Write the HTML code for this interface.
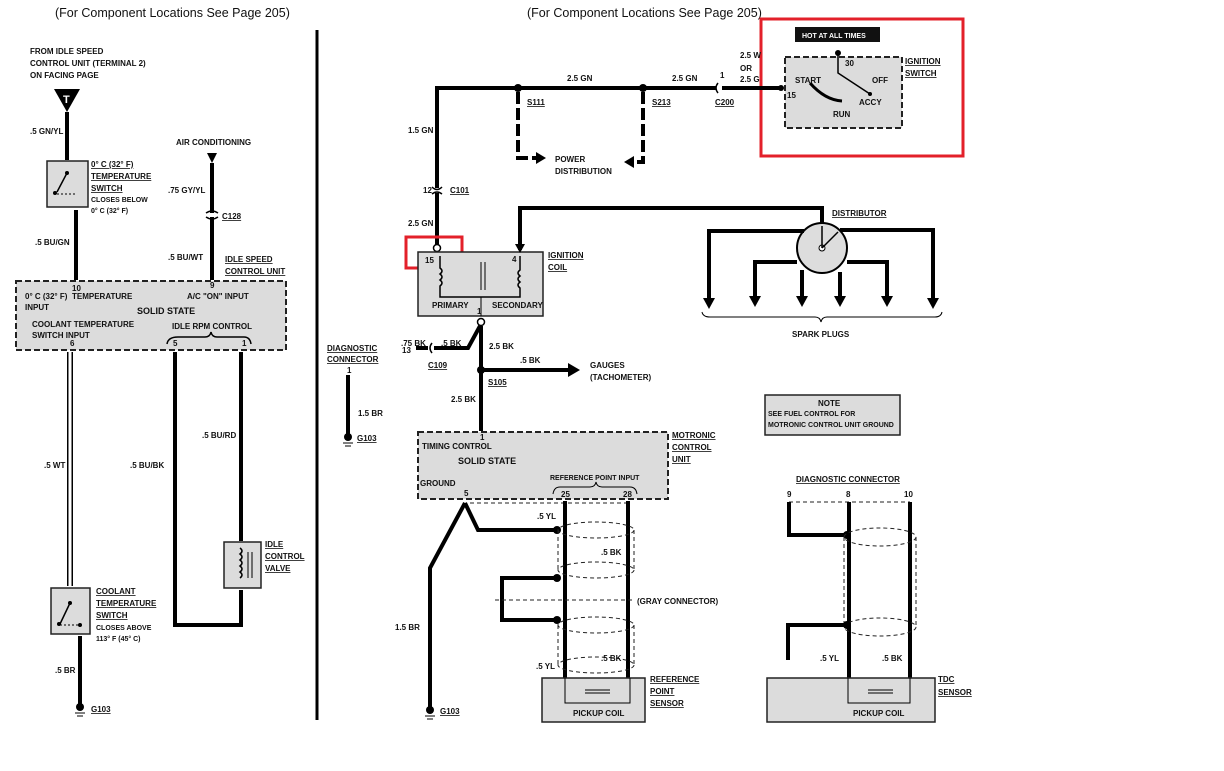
<!DOCTYPE html>
<html><head><meta charset="utf-8"><style>
html,body{margin:0;padding:0;background:#fff}
svg{display:block}
text{font-family:"Liberation Sans",sans-serif;font-weight:bold;font-size:8px;fill:#111}
.t{font-size:12.5px;font-weight:normal}
.u{text-decoration:underline}
.w{stroke:#000;stroke-width:4;fill:none}
.d{stroke:#000;stroke-width:4;fill:none;stroke-dasharray:12 4}
.th{stroke:#000;stroke-width:1.5;fill:none}
.box{fill:#dcdcdc;stroke:#222;stroke-width:1.5}
.dbox{fill:#dcdcdc;stroke:#222;stroke-width:2;stroke-dasharray:6 3}
.sh{stroke:#222;stroke-width:1;fill:none;stroke-dasharray:4 3}
</style></head><body>
<svg width="1224" height="771" viewBox="0 0 1224 771" xmlns="http://www.w3.org/2000/svg">
<rect width="1224" height="771" fill="#fff"/>
<!-- titles -->
<text class="t" x="55" y="17">(For Component Locations See Page 205)</text>
<text class="t" x="527" y="17">(For Component Locations See Page 205)</text>
<line x1="317" y1="30" x2="317" y2="720" stroke="#000" stroke-width="3"/>

<!-- LEFT PANEL -->
<text x="30" y="54">FROM IDLE SPEED</text>
<text x="30" y="66">CONTROL UNIT (TERMINAL 2)</text>
<text x="30" y="78">ON FACING PAGE</text>
<polygon points="54,89 80,89 67,112" fill="#000"/>
<text x="63" y="103" style="fill:#fff;font-size:11px">T</text>
<line class="w" x1="67" y1="112" x2="67" y2="160"/>
<text x="30" y="134">.5 GN/YL</text>
<rect class="box" x="47" y="161" width="41" height="46"/>
<line class="th" x1="57" y1="192" x2="67" y2="173"/><circle cx="67" cy="173" r="2"/><circle cx="55" cy="193" r="2"/>
<line x1="57" y1="194" x2="76" y2="194" stroke="#000" stroke-dasharray="2 2"/>
<text class="u" x="91" y="167">0° C (32° F)</text>
<text class="u" x="91" y="179">TEMPERATURE</text>
<text class="u" x="91" y="191">SWITCH</text>
<text x="91" y="202" style="font-size:7px">CLOSES BELOW</text>
<text x="91" y="213" style="font-size:7px">0° C (32° F)</text>
<line class="w" x1="76" y1="210" x2="76" y2="280"/>
<text x="35" y="245">.5 BU/GN</text>
<text x="176" y="145">AIR CONDITIONING</text>
<polygon points="207,153 217,153 212,163" fill="#000"/>
<line class="w" x1="212" y1="163" x2="212" y2="280"/>
<text x="168" y="193">.75 GY/YL</text>
<path d="M206,213 Q212,209 218,213 M206,217 Q212,221 218,217" class="th"/>
<rect x="208" y="213" width="8" height="4" fill="#fff"/>
<text class="u" x="222" y="219">C128</text>
<text x="168" y="260">.5 BU/WT</text>
<text class="u" x="225" y="262">IDLE SPEED</text>
<text class="u" x="225" y="274">CONTROL UNIT</text>
<rect class="dbox" x="16" y="281" width="270" height="69"/>
<text x="72" y="291">10</text>
<text x="25" y="299">0° C (32° F)</text><text x="72" y="299">TEMPERATURE</text>
<text x="25" y="310">INPUT</text>
<text x="210" y="288">9</text>
<text x="187" y="299">A/C "ON" INPUT</text>
<text x="137" y="314" style="font-size:9px">SOLID STATE</text>
<text x="32" y="327">COOLANT TEMPERATURE</text>
<text x="32" y="338">SWITCH INPUT</text>
<text x="70" y="346">6</text>
<text x="172" y="329">IDLE RPM CONTROL</text>
<path d="M167,344 Q168,337 178,337 L205,337 Q210,337 211,332 Q212,337 217,337 L244,337 Q250,337 251,344" class="th"/>
<text x="173" y="346">5</text><text x="242" y="346">1</text>
<!-- wires down -->
<line x1="70" y1="352" x2="70" y2="586" stroke="#000" stroke-width="6"/>
<line x1="70" y1="352" x2="70" y2="586" stroke="#fff" stroke-width="3"/>
<text x="44" y="468">.5 WT</text>
<path class="w" d="M175,352 V625 H241 V590"/>
<line class="w" x1="241" y1="352" x2="241" y2="541"/>
<text x="130" y="468">.5 BU/BK</text>
<text x="202" y="438">.5 BU/RD</text>
<rect class="box" x="224" y="542" width="37" height="46"/>
<path d="M240,548 q4,3 0,6 q4,3 0,6 q4,3 0,6 q4,3 0,6 q4,3 0,6" class="th"/>
<line x1="248" y1="552" x2="248" y2="578" stroke="#000"/><line x1="252" y1="552" x2="252" y2="578" stroke="#000"/>
<text class="u" x="265" y="547">IDLE</text>
<text class="u" x="265" y="559">CONTROL</text>
<text class="u" x="265" y="571">VALVE</text>
<rect class="box" x="51" y="588" width="39" height="46"/>
<line class="th" x1="60" y1="624" x2="70" y2="603"/><circle cx="70" cy="603" r="2"/><circle cx="59" cy="624" r="2"/>
<line x1="60" y1="625" x2="80" y2="625" stroke="#000" stroke-dasharray="2 2"/><circle cx="80" cy="625" r="2"/>
<text class="u" x="96" y="594">COOLANT</text>
<text class="u" x="96" y="606">TEMPERATURE</text>
<text class="u" x="96" y="618">SWITCH</text>
<text x="96" y="630" style="font-size:7px">CLOSES ABOVE</text>
<text x="96" y="641" style="font-size:7px">113° F (45° C)</text>
<line class="w" x1="80" y1="636" x2="80" y2="706"/>
<text x="55" y="673">.5 BR</text>
<circle cx="80" cy="707" r="4"/><line x1="75" y1="713" x2="85" y2="713" stroke="#000"/><line x1="77" y1="716" x2="83" y2="716" stroke="#000"/>
<text class="u" x="91" y="712">G103</text>

<!-- RIGHT PANEL: ignition switch -->
<rect x="761" y="19" width="202" height="137" fill="none" stroke="#e3202a" stroke-width="3"/>
<rect x="795" y="27" width="85" height="15" fill="#111"/>
<text x="802" y="38" style="fill:#fff;font-size:7px">HOT AT ALL TIMES</text>
<circle cx="838" cy="53" r="3"/>
<rect class="dbox" x="785" y="57" width="117" height="71"/>
<path class="th" d="M838,53 V73 L870,94"/><circle cx="870" cy="94" r="2"/>
<path d="M810,83 Q825,100 842,101" stroke="#000" stroke-width="3" fill="none"/>
<text x="795" y="83">START</text><text x="845" y="66">30</text><text x="872" y="83">OFF</text>
<text x="787" y="98">15</text><text x="859" y="105">ACCY</text><text x="833" y="117">RUN</text>
<text class="u" x="905" y="64">IGNITION</text><text class="u" x="905" y="76">SWITCH</text>
<path class="w" d="M781,88 H437 V258"/>
<circle cx="781" cy="88" r="3"/>
<circle cx="518" cy="88" r="4"/><circle cx="643" cy="88" r="4"/>
<rect x="716" y="84" width="6" height="8" fill="#fff"/>
<path class="th" d="M718,83 Q714,88 718,93"/>
<text x="720" y="78">1</text>
<text x="567" y="81">2.5 GN</text><text x="672" y="81">2.5 GN</text>
<text x="740" y="58">2.5 W</text><text x="740" y="71">OR</text><text x="740" y="82">2.5 G</text>
<text class="u" x="527" y="105">S111</text><text class="u" x="652" y="105">S213</text><text class="u" x="715" y="105">C200</text>
<path class="d" d="M518,92 V158 H538"/><polygon points="536,152 546,158 536,164" fill="#000"/>
<path class="d" d="M643,92 V162 H632"/><polygon points="634,156 624,162 634,168" fill="#000"/>
<text x="555" y="162">POWER</text><text x="555" y="174">DISTRIBUTION</text>
<text x="408" y="133">1.5 GN</text>
<rect x="433" y="188" width="8" height="5" fill="#fff"/>
<path class="th" d="M432,187 Q437,192 442,187 M432,194 Q437,190 442,194"/>
<text x="423" y="193">12</text><text class="u" x="450" y="193">C101</text>
<text x="408" y="226">2.5 GN</text>
<rect x="406" y="237" width="56" height="31" fill="none" stroke="#e3202a" stroke-width="3"/>
<!-- coil -->
<circle cx="437" cy="248" r="3.5" fill="#fff" stroke="#000" stroke-width="1.5"/>
<rect class="box" x="418" y="252" width="125" height="64"/>
<path class="th" d="M440,256 V268 q4,3 0,6 q4,3 0,6 q4,3 0,6 V297 H520 V288 q-4,-3 0,-6 q-4,-3 0,-6 q-4,-3 0,-6 V256"/>
<line x1="481" y1="262" x2="481" y2="290" stroke="#000"/><line x1="485" y1="262" x2="485" y2="290" stroke="#000"/>
<line x1="481" y1="297" x2="481" y2="316" stroke="#000"/>
<text x="425" y="263">15</text><text x="512" y="262">4</text>
<text x="432" y="308">PRIMARY</text><text x="492" y="308">SECONDARY</text><text x="477" y="314">1</text>
<text class="u" x="548" y="258">IGNITION</text><text class="u" x="548" y="270">COIL</text>
<path class="w" d="M520,250 V208 H822 V224"/>
<polygon points="515,244 525,244 520,253" fill="#000"/>
<!-- distributor -->
<circle cx="822" cy="248" r="25" fill="#ddd" stroke="#000" stroke-width="2"/>
<circle cx="822" cy="248" r="3" fill="#fff" stroke="#000"/>
<line class="th" x1="822" y1="248" x2="822" y2="226"/><line class="th" x1="822" y1="248" x2="838" y2="232"/>
<text class="u" x="832" y="216">DISTRIBUTOR</text>
<path class="w" d="M804,231 H709 V300"/><polygon points="703,298 715,298 709,309" fill="#000"/>
<path class="w" d="M797,262 H755 V298"/><polygon points="749,296 761,296 755,307" fill="#000"/>
<path class="w" d="M802,270 V298"/><polygon points="796,296 808,296 802,307" fill="#000"/>
<path class="w" d="M840,272 V298"/><polygon points="834,296 846,296 840,307" fill="#000"/>
<path class="w" d="M847,262 H887 V298"/><polygon points="881,296 893,296 887,307" fill="#000"/>
<path class="w" d="M840,230 H933 V300"/><polygon points="927,298 939,298 933,309" fill="#000"/>
<path class="th" style="stroke-width:1" d="M702,312 Q703,317 710,317 L815,317 Q820,317 821,322 Q822,317 827,317 L935,317 Q941,317 942,312"/>
<text x="792" y="337">SPARK PLUGS</text>
<!-- coil output -->
<circle cx="481" cy="322" r="3.5" fill="#fff" stroke="#000" stroke-width="1.5"/>
<path class="w" d="M481,326 V431"/>
<path class="w" d="M480,326 L468,348 H416"/>
<rect x="428" y="344" width="6" height="8" fill="#fff"/>
<path class="th" d="M432,343 Q428,348 432,353"/>
<text x="402" y="353">13</text><text x="401" y="346">.75 BK</text><text x="441" y="346">.5 BK</text>
<text class="u" x="428" y="368">C109</text>
<text x="489" y="349">2.5 BK</text>
<circle cx="481" cy="370" r="4"/>
<path class="w" d="M481,370 H570"/><polygon points="568,363 580,370 568,377" fill="#000"/>
<text x="520" y="363">.5 BK</text>
<text x="590" y="368">GAUGES</text><text x="590" y="380">(TACHOMETER)</text>
<text class="u" x="488" y="385">S105</text>
<text x="451" y="402">2.5 BK</text>
<text class="u" x="327" y="351">DIAGNOSTIC</text><text class="u" x="327" y="362">CONNECTOR</text>
<text x="347" y="373">1</text>
<line class="w" x1="348" y1="375" x2="348" y2="434"/>
<text x="358" y="416">1.5 BR</text>
<circle cx="348" cy="437" r="4"/><line x1="343" y1="443" x2="353" y2="443" stroke="#000"/><line x1="345" y1="446" x2="351" y2="446" stroke="#000"/>
<text class="u" x="357" y="441">G103</text>
<!-- motronic -->
<rect class="dbox" x="418" y="432" width="250" height="67"/>
<text x="480" y="440">1</text><text x="422" y="449">TIMING CONTROL</text>
<text x="458" y="464" style="font-size:9px">SOLID STATE</text>
<text x="420" y="486">GROUND</text><text x="464" y="496">5</text>
<text x="550" y="480" style="font-size:7px">REFERENCE POINT INPUT</text>
<path class="th" style="stroke-width:1" d="M553,494 Q554,487 560,487 L590,487 Q595,487 596,482 Q597,487 602,487 L630,487 Q636,487 637,494"/>
<text x="561" y="497">25</text><text x="623" y="497">28</text>
<text class="u" x="672" y="438">MOTRONIC</text><text class="u" x="672" y="450">CONTROL</text><text class="u" x="672" y="462">UNIT</text>
<line class="sh" x1="470" y1="503" x2="630" y2="503"/>
<path class="w" d="M465,503 L478,530 H555"/>
<path class="w" d="M465,503 L430,568 V708"/>
<circle cx="557" cy="530" r="4"/>
<line class="w" x1="565" y1="501" x2="565" y2="678"/>
<line class="w" x1="628" y1="501" x2="628" y2="678"/>
<ellipse class="sh" cx="596" cy="530" rx="38" ry="8"/>
<ellipse class="sh" cx="596" cy="570" rx="38" ry="8"/>
<ellipse class="sh" cx="596" cy="625" rx="38" ry="8"/>
<ellipse class="sh" cx="596" cy="665" rx="38" ry="8"/>
<line class="sh" x1="558" y1="530" x2="558" y2="570"/><line class="sh" x1="634" y1="530" x2="634" y2="570"/>
<line class="sh" x1="558" y1="625" x2="558" y2="665"/><line class="sh" x1="634" y1="625" x2="634" y2="665"/>
<path class="w" d="M555,578 H502 V620 H555"/>
<circle cx="557" cy="578" r="4"/><circle cx="557" cy="620" r="4"/>
<line class="sh" x1="495" y1="600" x2="635" y2="600"/>
<text x="637" y="604">(GRAY CONNECTOR)</text>
<text x="537" y="519">.5 YL</text><text x="601" y="555">.5 BK</text>
<text x="536" y="669">.5 YL</text><text x="601" y="661">.5 BK</text>
<text x="395" y="630">1.5 BR</text>
<circle cx="430" cy="710" r="4"/><line x1="425" y1="716" x2="435" y2="716" stroke="#000"/><line x1="427" y1="719" x2="433" y2="719" stroke="#000"/>
<text class="u" x="440" y="714">G103</text>
<rect class="box" x="542" y="678" width="103" height="44"/>
<path class="th" style="stroke-width:1" d="M565,678 V703 H630 V678"/>
<line x1="585" y1="690" x2="610" y2="690" stroke="#000"/><line x1="585" y1="693" x2="610" y2="693" stroke="#000"/>
<text x="573" y="716">PICKUP COIL</text>
<text class="u" x="650" y="682">REFERENCE</text><text class="u" x="650" y="694">POINT</text><text class="u" x="650" y="706">SENSOR</text>
<!-- note -->
<rect class="box" x="765" y="395" width="135" height="40"/>
<text x="818" y="406">NOTE</text>
<text x="768" y="416" style="font-size:7px">SEE FUEL CONTROL FOR</text>
<text x="768" y="427" style="font-size:7px">MOTRONIC CONTROL UNIT GROUND</text>
<!-- diagnostic / TDC -->
<text class="u" x="796" y="482">DIAGNOSTIC CONNECTOR</text>
<text x="787" y="497">9</text><text x="846" y="497">8</text><text x="904" y="497">10</text>
<line class="sh" x1="789" y1="502" x2="910" y2="502"/>
<path class="w" d="M789,502 V535 H845"/>
<circle cx="847" cy="535" r="4"/>
<line class="w" x1="849" y1="502" x2="849" y2="678"/>
<line class="w" x1="910" y1="502" x2="910" y2="678"/>
<ellipse class="sh" cx="880" cy="537" rx="36" ry="9"/>
<ellipse class="sh" cx="880" cy="627" rx="36" ry="9"/>
<line class="sh" x1="844" y1="537" x2="844" y2="627"/><line class="sh" x1="916" y1="537" x2="916" y2="627"/>
<path class="w" d="M845,625 H788 V660"/>
<circle cx="847" cy="625" r="4"/>
<text x="820" y="661">.5 YL</text><text x="882" y="661">.5 BK</text>
<rect class="box" x="767" y="678" width="168" height="44"/>
<path class="th" style="stroke-width:1" d="M848,678 V703 H910 V678"/>
<line x1="868" y1="690" x2="893" y2="690" stroke="#000"/><line x1="868" y1="693" x2="893" y2="693" stroke="#000"/>
<text x="853" y="716">PICKUP COIL</text>
<text class="u" x="938" y="682">TDC</text><text class="u" x="938" y="695">SENSOR</text>
</svg>
</body></html>
